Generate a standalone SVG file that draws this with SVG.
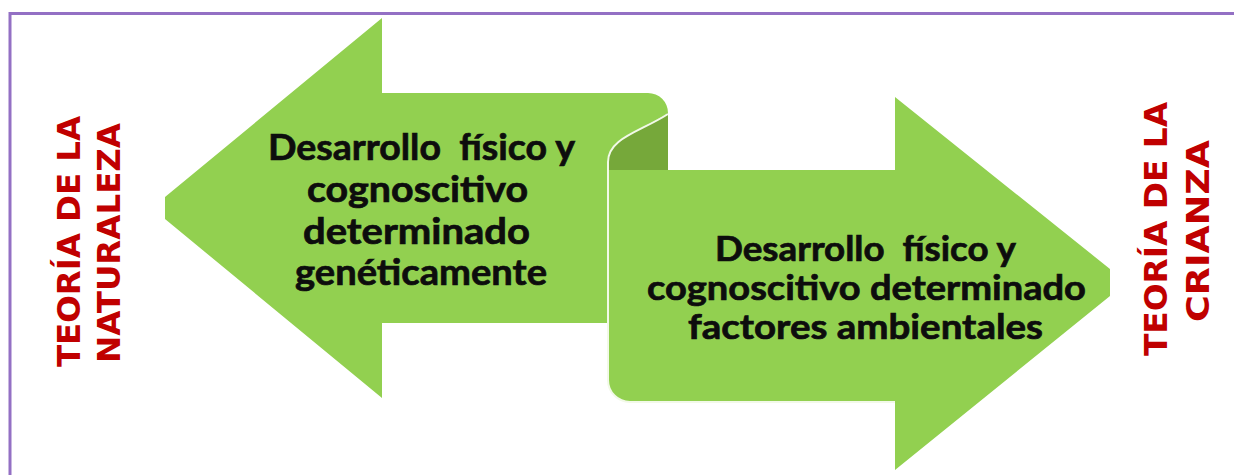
<svg xmlns="http://www.w3.org/2000/svg" width="1234" height="475" viewBox="0 0 1234 475">
  <style>
    .arrow { fill: #92d050; }
    .edge { fill: none; stroke: #f2f9e8; stroke-width: 2; }
    .curl { fill: #76a83a; }
    .body { font-family: Lato, "Open Sans", "Liberation Sans", sans-serif; font-weight: 700; font-size: 37px; fill: #0d0d0d; stroke: #0d0d0d; stroke-width: 0.7px; }
    .body-r { font-size: 35px; }
    .theory { font-family: "DejaVu Sans", Verdana, sans-serif; font-weight: 700; font-size: 32px; fill: #c00000; }
  </style>
  <rect x="0" y="0" width="1234" height="475" fill="#ffffff"/>
  <path d="M10,475 L10,13.5 L1234,13.5" fill="none" stroke="#9370c4" stroke-width="3"/>

  <g id="connectors">
    <g id="arrow-left">
      <path class="arrow" d="M382,18 L382,93 L648,93 A20,20 0 0 1 668,113 C640,132 608,138 608,162 L608,323 L382,323 L382,398 L165,219 L165,197 Z"/>
    </g>
    <g id="curl">
      <path class="curl" d="M668,113 L668,170 L608,170 L608,162 C608,138 640,132 668,113 Z"/>
    </g>
    <g id="arrow-right">
      <path class="arrow" d="M608,170 L895,170 L895,97 L1110,269 L1110,296 L895,470 L895,402 L630,402 A22,22 0 0 1 608,380 Z"/>
      <path class="edge" d="M668,114 C640,132 608,138 608,162 L608,380 A22,22 0 0 0 630,402 L895,402"/>
    </g>
  </g>

  <g id="node-left-text">
    <text class="body" xml:space="preserve" x="268" y="160" textLength="307" lengthAdjust="spacingAndGlyphs">Desarrollo  físico y</text>
    <text class="body" x="307" y="202" textLength="221" lengthAdjust="spacingAndGlyphs">cognoscitivo</text>
    <text class="body" x="303" y="244" textLength="227" lengthAdjust="spacingAndGlyphs">determinado</text>
    <text class="body" x="295" y="285" textLength="252" lengthAdjust="spacingAndGlyphs">genéticamente</text>
  </g>

  <g id="node-right-text">
    <text class="body body-r" xml:space="preserve" x="715" y="261" textLength="301" lengthAdjust="spacingAndGlyphs">Desarrollo  físico y</text>
    <text class="body body-r" x="647" y="300" textLength="439" lengthAdjust="spacingAndGlyphs">cognoscitivo determinado</text>
    <text class="body body-r" x="688" y="339" textLength="355" lengthAdjust="spacingAndGlyphs">factores ambientales</text>
  </g>

  <g id="node-naturaleza">
    <text class="theory" transform="translate(80,367) rotate(-90)" textLength="251" lengthAdjust="spacingAndGlyphs">TEORÍA DE LA</text>
    <text class="theory" transform="translate(120,363) rotate(-90)" textLength="240" lengthAdjust="spacingAndGlyphs">NATURALEZA</text>
  </g>

  <g id="node-crianza">
    <text class="theory" transform="translate(1167,356) rotate(-90)" textLength="254" lengthAdjust="spacingAndGlyphs">TEORÍA DE LA</text>
    <text class="theory" transform="translate(1209,322) rotate(-90)" textLength="182" lengthAdjust="spacingAndGlyphs">CRIANZA</text>
  </g>
</svg>
